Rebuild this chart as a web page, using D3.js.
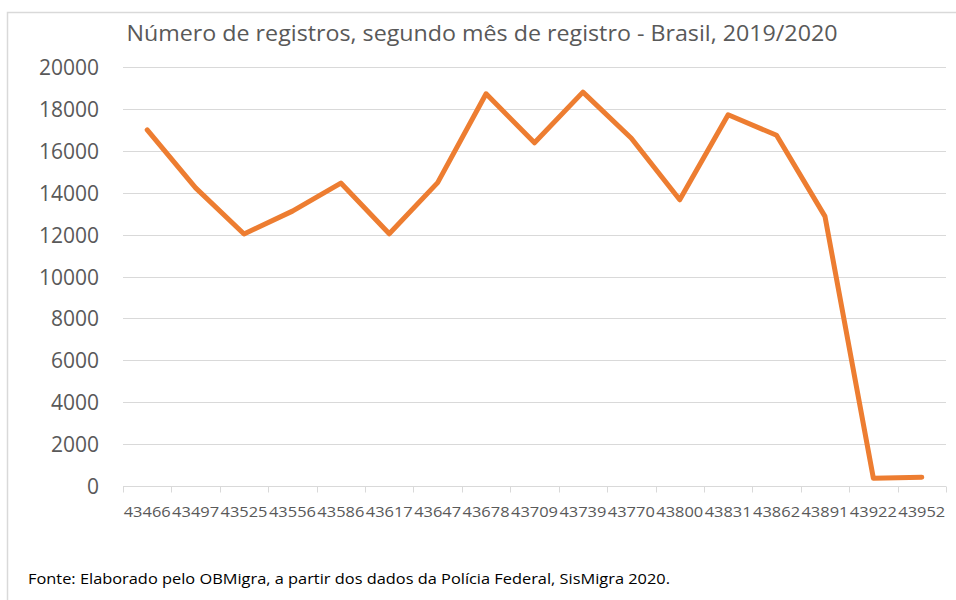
<!DOCTYPE html>
<html lang="pt">
<head>
    <meta charset="UTF-8">
    <title>Número de registros, segundo mês de registro</title>
    <script src="https://cdnjs.cloudflare.com/ajax/libs/d3/7.8.5/d3.min.js"></script>
    <style>
        body {
            margin: 0;
            padding: 0;
            background-color: #ffffff;
            font-family: "Open Sans", Arial, sans-serif;
        }
        .grid line {
            stroke: #d9d9d9;
            stroke-width: 1;
        }
        .tick text {
            fill: #595959;
        }
    </style>
</head>
<body>
    <div id="chart"></div>

    <script>
        // Month codes (Excel serial dates) as shown on the axis
        const months = ['43466', '43497', '43525', '43556', '43586', '43617', '43647', '43678', '43709',
                        '43739', '43770', '43800', '43831', '43862', '43891', '43922', '43952'];

        // Number of registrations per month
        const registros = [17000, 14230, 12030, 13120, 14460, 12040, 14480, 18720, 16380,
                           18800, 16600, 13660, 17720, 16740, 12870, 370, 420];

        const yTicks = [0, 2000, 4000, 6000, 8000, 10000, 12000, 14000, 16000, 18000, 20000];

        const width = 956;
        const height = 600;
        const margin = { top: 67, right: 10, bottom: 114, left: 123 };

        const svg = d3.select('#chart')
            .append('svg')
            .attr('width', width)
            .attr('height', height);

        // outer frame (cropped on the right and bottom)
        svg.append('path')
            .attr('d', `M7.5,${height} V12.5 H${width}`)
            .attr('fill', 'none')
            .attr('stroke', '#d9d9d9')
            .attr('stroke-width', 1.5);

        const x = d3.scaleBand()
            .domain(months)
            .range([margin.left, margin.left + 823]);

        const y = d3.scaleLinear()
            .domain([0, 20000])
            .range([486, 67]);

        // horizontal gridlines
        svg.append('g')
            .attr('class', 'grid')
            .selectAll('line')
            .data(yTicks.filter(d => d > 0))
            .enter().append('line')
            .attr('x1', margin.left)
            .attr('x2', margin.left + 823)
            .attr('y1', d => Math.round(y(d)) + 0.5)
            .attr('y2', d => Math.round(y(d)) + 0.5);

        // y axis labels
        const yAxis = svg.append('g')
            .attr('transform', `translate(${margin.left - 24},0)`)
            .call(d3.axisLeft(y).tickValues(yTicks).tickSize(0).tickPadding(0).tickFormat(d3.format('d')));
        yAxis.select('.domain').remove();
        yAxis.selectAll('text')
            .attr('font-family', '"Open Sans", Arial, sans-serif')
            .attr('font-size', 21)
            .attr('dy', '0.36em');

        // x axis: baseline with tick marks at band edges
        const xAxisG = svg.append('g')
            .attr('transform', `translate(0,${Math.round(y(0)) + 0.5})`);
        xAxisG.append('line')
            .attr('x1', margin.left)
            .attr('x2', margin.left + 823)
            .attr('stroke', '#d9d9d9')
            .attr('stroke-width', 1);
        xAxisG.selectAll('line.edge')
            .data(months.concat(['end']))
            .enter().append('line')
            .attr('class', 'edge')
            .attr('x1', (d, i) => Math.round(margin.left + i * x.step()) + 0.5)
            .attr('x2', (d, i) => Math.round(margin.left + i * x.step()) + 0.5)
            .attr('y1', 0)
            .attr('y2', 6)
            .attr('stroke', '#d9d9d9')
            .attr('stroke-width', 1);
        xAxisG.selectAll('text')
            .data(months)
            .enter().append('text')
            .attr('x', d => x(d) + x.bandwidth() / 2)
            .attr('y', 30)
            .attr('text-anchor', 'middle')
            .attr('font-size', 15)
            .attr('fill', '#595959')
            .attr('textLength', 47)
            .attr('lengthAdjust', 'spacingAndGlyphs')
            .text(d => d);

        // the series line
        const line = d3.line()
            .x((d, i) => x(months[i]) + x.bandwidth() / 2)
            .y(d => y(d));

        svg.append('path')
            .datum(registros)
            .attr('d', line)
            .attr('fill', 'none')
            .attr('stroke', '#ed7d31')
            .attr('stroke-width', 5)
            .attr('stroke-linecap', 'round')
            .attr('stroke-linejoin', 'round');

        // title
        svg.append('text')
            .attr('x', 482)
            .attr('y', 41)
            .attr('text-anchor', 'middle')
            .attr('font-size', 21)
            .attr('fill', '#595959')
            .attr('textLength', 711)
            .attr('lengthAdjust', 'spacingAndGlyphs')
            .text('Número de registros, segundo mês de registro - Brasil, 2019/2020');

        // source note
        svg.append('text')
            .attr('x', 28)
            .attr('y', 584)
            .attr('font-size', 14)
            .attr('fill', '#000000')
            .attr('textLength', 642)
            .attr('lengthAdjust', 'spacingAndGlyphs')
            .text('Fonte: Elaborado pelo OBMigra, a partir dos dados da Polícia Federal, SisMigra 2020.');
    </script>
</body>
</html>
